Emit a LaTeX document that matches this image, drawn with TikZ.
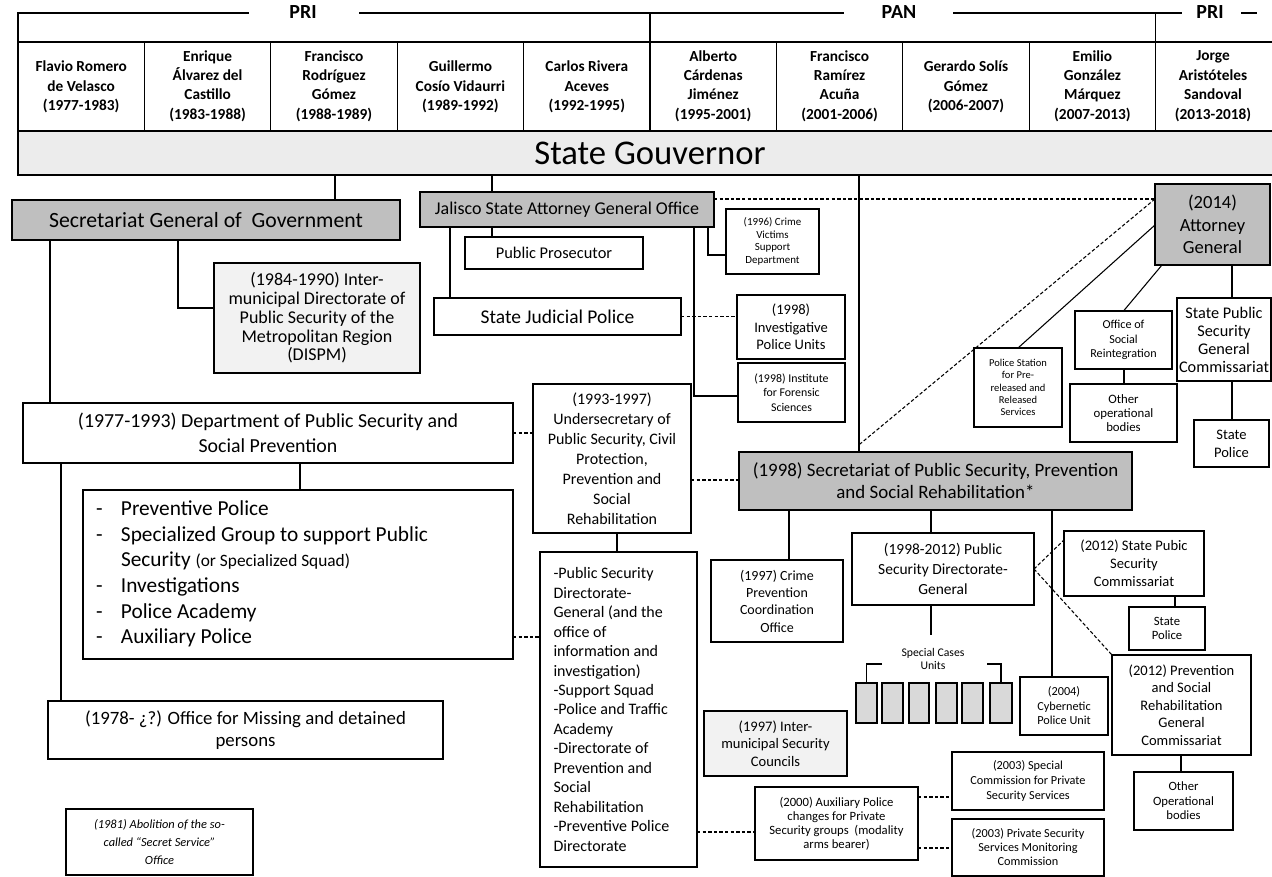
\documentclass[tikz,border=0pt]{standalone}
\usepackage{fontspec}
\setmainfont{Carlito}
\definecolor{gA}{RGB}{191,191,191}
\definecolor{gB}{RGB}{242,242,242}
\definecolor{gC}{RGB}{217,217,217}
\definecolor{gBar}{RGB}{236,236,236}
\newcommand\fz[2]{\fontsize{#1pt}{#2pt}\selectfont}
\newcommand\mkbox[7]{\node[#6, minimum width={(#4-(#2))*0.75pt}, minimum height={(#5-(#3))*0.75pt}] (#1) at ({((#2)+(#4))/2},{((#3)+(#5))/2}) {#7};}
\begin{document}
\begin{tikzpicture}[x=0.75pt,y=-0.75pt,
  box/.style={draw=black, line width=0.85pt, fill=white, align=flush center, inner sep=1pt, outer sep=0pt},
  gbox/.style={box, fill=gA},
  lbox/.style={box, fill=gB},
  ln/.style={line width=0.8pt},
  dln/.style={line width=0.8pt, dash pattern=on 2.6pt off 1.6pt},
  nm/.style={align=flush center, font=\bfseries\fz{11.5}{14.6}, inner sep=0pt},
  party/.style={font=\bfseries\fz{15}{17}, inner sep=0pt}]
\useasboundingbox (0,0) rectangle (1272,877);
\fill[white] (0,0) rectangle (1272,877);

% ---- header band
\draw[ln] (18,42) -- (18,13) -- (249,13);
\draw[ln] (359,13) -- (844,13);
\draw[ln] (953,13) -- (1182,13);
\draw[ln] (1241,13) -- (1257,13);
\draw[ln] (650,13) -- (650,42);
\draw[ln] (1155.6,13) -- (1155.6,42);
\node[party] (pri1) at (303,12) {PRI};
\node[party] (pan) at (899,12) {PAN};
\node[party] (pri2) at (1210,12) {PRI};

% ---- names table
\draw[ln] (18,42) rectangle (1282,131);
\draw[line width=1.5pt] (18,42) -- (1282,42);
\foreach \k in {1,...,9} \draw[ln] ({18+126.4*\k},42) -- ({18+126.4*\k},131);
\node[nm] (n1) at (81.2,87) {Flavio Romero\\de Velasco\\(1977-1983)};
\node[nm] (n2) at (207.6,86) {Enrique\\Álvarez del\\Castillo\\(1983-1988)};
\node[nm] (n3) at (334,86) {Francisco\\Rodríguez\\Gómez\\(1988-1989)};
\node[nm] (n4) at (460.4,87) {Guillermo\\Cosío Vidaurri\\(1989-1992)};
\node[nm] (n5) at (586.8,87) {Carlos Rivera\\Aceves\\(1992-1995)};
\node[nm] (n6) at (713.2,86) {Alberto\\Cárdenas\\Jiménez\\(1995-2001)};
\node[nm] (n7) at (839.6,86) {Francisco\\Ramírez\\Acuña\\(2001-2006)};
\node[nm] (n8) at (966,87) {Gerardo Solís\\Gómez\\(2006-2007)};
\node[nm] (n9) at (1092.4,86) {Emilio\\González\\Márquez\\(2007-2013)};
\node[nm] (n10) at (1213,86) {Jorge\\Aristóteles\\Sandoval\\(2013-2018)};

% ---- governor bar
\mkbox{gov}{18}{131}{1282}{175}{box, fill=gBar, font=\fz{26}{30}}{State Gouvernor}

% ---- boxes
\mkbox{sgg}{12}{200}{400}{240}{gbox, font=\fz{16.3}{19}}{Secretariat General of\ \ Government}
\mkbox{jal}{420}{192}{714}{227}{gbox, font=\fz{13.5}{15}}{Jalisco State Attorney General Office}
\mkbox{ag}{1155}{184}{1270}{265}{gbox, font=\fz{13.9}{16.9}}{(2014)\\Attorney\\General}
\mkbox{pp}{465}{237}{643}{269}{box, font=\fz{12.3}{14}}{Public Prosecutor}
\mkbox{sjp}{434}{298}{681}{335}{box, font=\fz{14.6}{16}}{State Judicial Police}
\mkbox{cv}{726}{209}{819}{274}{box, font=\fz{8.2}{9.5}}{(1996) Crime\\Victims\\Support\\Department}
\mkbox{ipu}{737}{295}{845}{359}{box, font=\fz{10.9}{13}}{(1998)\\Investigative\\Police Units}
\mkbox{ifs}{738}{363}{845}{422}{box, font=\fz{8.9}{10.7}}{(1998) Institute\\for Forensic\\Sciences}
\mkbox{dispm}{214}{263}{420}{373}{lbox, font=\fz{13.5}{14.1}}{(1984-1990) Inter-\\municipal Directorate of\\Public Security of the\\Metropolitan Region\\(DISPM)}
\mkbox{dept}{23}{403}{513}{463}{box, font=\fz{14.9}{18.75}}{(1977-1993) Department of Public Security and\\Social Prevention}
\mkbox{lst}{83}{490}{513}{659}{box, align=flush left, text width=303pt, font=\fz{16}{19.3}}{\begin{tabular}{@{}p{18.75pt}@{}l@{}}-&Preventive Police\\-&Specialized Group to support Public\\&Security {\fz{13}{19.3}(or Specialized Squad)}\\-&Investigations\\-&Police Academy\\-&Auxiliary Police\end{tabular}}
\mkbox{miss}{48}{701}{443}{759}{box, font=\fz{14.1}{16}}{(1978- ¿?) Office for Missing and detained\\persons}
\mkbox{abol}{66}{809}{253}{875}{box, font=\itshape\fz{9.3}{13.5}}{(1981) Abolition of the so-\\called “Secret Service”\\Office}
\mkbox{under}{533}{384}{691}{533}{box, font=\fz{12}{15}}{(1993-1997)\\Undersecretary of\\Public Security, Civil\\Protection,\\Prevention and\\Social\\Rehabilitation}
\mkbox{psl}{540}{552}{697}{867}{box, align=flush left, text width=97.5pt, font=\fz{12}{14.6}}{-Public Security\\Directorate-\\General (and the\\office of\\information and\\investigation)\\-Support Squad\\-Police and Traffic\\Academy\\-Directorate of\\Prevention and\\Social\\Rehabilitation\\-Preventive Police\\Directorate}
\mkbox{sec98}{739}{452}{1132}{510}{gbox, font=\fz{14.2}{16.7}}{(1998) Secretariat of Public Security, Prevention\\and Social Rehabilitation*}
\mkbox{cpco}{711}{560}{843}{642}{box, font=\fz{10.5}{13}}{(1997) Crime\\Prevention\\Coordination\\Office}
\mkbox{psdg}{852}{533}{1034}{605}{box, font=\fz{11.6}{15}}{(1998-2012) Public\\Security Directorate-\\General}
\mkbox{spsc}{1064}{531}{1204}{596}{box, font=\fz{10.9}{13.5}}{(2012) State Pubic\\Security\\Commissariat}
\mkbox{sp2}{1129}{607}{1205}{650}{box, font=\fz{9.5}{10.3}}{State\\Police}
\mkbox{prev}{1112}{655}{1251}{755}{box, font=\fz{10.9}{13.1}}{(2012) Prevention\\and Social\\Rehabilitation\\General\\Commissariat}
\mkbox{oob2}{1134}{772}{1233}{830}{box, font=\fz{9.5}{10.9}}{Other\\Operational\\bodies}
\mkbox{cyber}{1020}{677}{1108}{735}{box, font=\fz{9.2}{10.9}}{(2004)\\Cybernetic\\Police Unit}
\mkbox{imsc}{704}{711}{847}{776}{lbox, font=\fz{10.9}{13.3}}{(1997) Inter-\\municipal Security\\Councils}
\mkbox{aux}{755}{787}{918}{860}{box, font=\fz{9.5}{10.5}}{(2000) Auxiliary Police\\changes for Private\\Security groups\ \ (modality\\arms bearer)}
\mkbox{scp}{952}{752}{1104}{810}{box, font=\fz{9.2}{11.3}}{(2003) Special\\Commission for Private\\Security Services}
\mkbox{pssmc}{952}{819}{1104}{876}{box, font=\fz{9.2}{10.5}}{(2003) Private Security\\Services Monitoring\\Commission}
\mkbox{ps}{974}{348}{1062}{427}{box, font=\fz{7.9}{9.2}}{Police Station\\for Pre-\\released and\\Released\\Services}
\mkbox{osr}{1075}{311}{1172}{369}{box, font=\fz{9.1}{10.9}}{Office of\\Social\\Reintegration}
\mkbox{oob1}{1070}{384}{1177}{442}{box, font=\fz{9.6}{10.5}}{Other\\operational\\bodies}
\mkbox{spsgc}{1177}{298}{1271}{381}{box, font=\fz{12.2}{13.5}}{State Public\\Security\\General\\Commissariat}
\mkbox{sp1}{1194}{420}{1269}{467}{box, font=\fz{10.9}{13.3}}{State\\Police}

% special cases units
\node[font=\fz{8.8}{10.3}, align=flush center, inner sep=0pt] (scu) at (933,659) {Special Cases\\Units};
\mkbox{u1}{856}{683}{877}{723}{box, fill=gC}{}
\mkbox{u2}{882}{683}{903}{723}{box, fill=gC}{}
\mkbox{u3}{909}{683}{929}{723}{box, fill=gC}{}
\mkbox{u4}{936}{683}{957}{723}{box, fill=gC}{}
\mkbox{u5}{962}{683}{983}{723}{box, fill=gC}{}
\mkbox{u6}{990}{683}{1012}{723}{box, fill=gC}{}

% ---- helper coordinates
\coordinate (X335) at (335,0);
\coordinate (X492) at (492,0);
\coordinate (X859) at (859,0);
\coordinate (X50) at (50,0);
\coordinate (X178) at (178,0);
\coordinate (X450) at (450,0);
\coordinate (X694) at (694,0);
\coordinate (X708) at (708,0);
\coordinate (X300) at (300,0);
\coordinate (X61) at (61,0);
\coordinate (X617) at (617,0);
\coordinate (X789) at (789,0);
\coordinate (X931) at (931,0);
\coordinate (X1052) at (1052,0);
\coordinate (X1232) at (1232,0);
\coordinate (X1124) at (1124,0);
\coordinate (X1175) at (1175,0);
\coordinate (X1181) at (1181,0);
\coordinate (X1018) at (1018,0);
\coordinate (X1162) at (1162,0);
\coordinate (Y308) at (0,308);
\coordinate (Y396) at (0,396);
\coordinate (Y255) at (0,255);
\coordinate (Y199) at (0,199);
\coordinate (Y225) at (0,225);
\coordinate (Y433) at (0,433);
\coordinate (Y637) at (0,637);
\coordinate (Y480) at (0,480);
\coordinate (Y540) at (0,540);
\coordinate (Y797) at (0,797);
\coordinate (Y848) at (0,848);
\coordinate (Y832) at (0,832);
\coordinate (dEnd) at (860,444);
\coordinate (scuTop) at (931,635);
\coordinate (bl) at (882,664);
\coordinate (br) at (987,664);

% ---- connectors
\draw[ln] (gov.south -| X335) -- (sgg.north -| X335);
\draw[ln] (gov.south -| X492) -- (jal.north -| X492);
\draw[ln] (gov.south -| X859) -- (sec98.north -| X859);
\draw[ln] (sgg.south -| X50) -- (dept.north -| X50);
\draw[ln] (sgg.south -| X178) |- (dispm.west |- Y308);
\draw[ln] (jal.south -| X492) -- (pp.north -| X492);
\draw[ln] (jal.south -| X450) -- (sjp.north -| X450);
\draw[ln] (jal.south -| X694) |- (ifs.west |- Y396);
\draw[ln] (jal.south -| X708) |- (cv.west |- Y255);
\draw[dln] (sjp.east) -- (ipu.west |- sjp.east);
\draw[dln] (jal.east |- Y199) -- (ag.west |- Y199);
\draw[dln] (ag.west |- Y199) -- (dEnd);
\draw[ln] (ag.west |- Y225) -- (ps.north -| X1018);
\draw[ln] (ag.south -| X1162) -- (osr.north);
\draw[ln] (ag.south -| X1232) -- (spsgc.north -| X1232);
\draw[ln] (osr.south -| X1124) -- (oob1.north -| X1124);
\draw[ln] (spsgc.south -| X1232) -- (sp1.north -| X1232);
\draw[ln] (dept.south -| X300) -- (lst.north -| X300);
\draw[ln] (dept.south -| X61) -- (miss.north -| X61);
\draw[dln] (dept.east |- Y433) -- (under.west |- Y433);
\draw[dln] (lst.east |- Y637) -- (psl.west |- Y637);
\draw[ln] (under.south -| X617) -- (psl.north -| X617);
\draw[dln] (under.east |- Y480) -- (sec98.west |- Y480);
\draw[ln] (sec98.south -| X789) -- (cpco.north -| X789);
\draw[ln] (sec98.south -| X931) -- (psdg.north -| X931);
\draw[ln] (sec98.south -| X1052) -- (cyber.north -| X1052);
\draw[ln] (psdg.south -| X931) -- (scuTop);
\draw[ln] (bl) -| (u1.north);
\draw[ln] (br) -| (u6.north);
\draw[dln] (psdg.east) -- (spsc.west |- Y540);
\draw[dln] (psdg.east) -- (prev.north west);
\draw[ln] (spsc.south -| X1175) -- (sp2.north -| X1175);
\draw[ln] (prev.south -| X1181) -- (oob2.north -| X1181);
\draw[dln] (psl.east |- Y832) -- (aux.west |- Y832);
\draw[dln] (aux.east |- Y797) -- (scp.west |- Y797);
\draw[dln] (aux.east |- Y848) -- (pssmc.west |- Y848);
\end{tikzpicture}
\end{document}
